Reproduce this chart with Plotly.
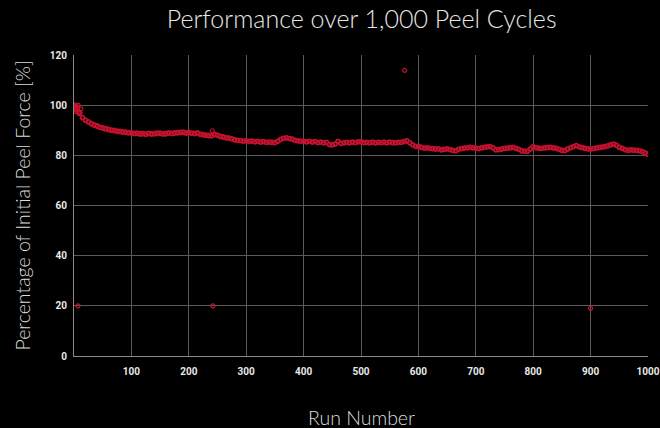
import plotly.graph_objects as go

# Main series: run number (every 5 runs) and percentage of initial peel force
runs = list(range(0, 1001, 5))
force = [
    100.0, 98.5, 97.0, 95.0, 94.0, 93.3, 92.6, 92.1, 91.7, 91.2,
    90.9, 90.6, 90.3, 90.0, 89.9, 89.6, 89.5, 89.3, 89.2, 89.0,
    88.9, 88.7, 88.8, 88.5, 88.6, 88.4, 88.7, 88.5, 88.6, 88.8,
    88.8, 88.5, 88.6, 88.9, 88.7, 88.9, 89.0, 89.1, 89.2, 88.9,
    89.1, 88.8, 88.7, 88.9, 88.4, 88.2, 88.0, 87.9, 87.8, 88.3,
    88.0, 87.5, 87.3, 87.0, 86.9, 86.6, 86.2, 86.0, 85.9, 85.7,
    85.8, 85.6, 85.7, 85.4, 85.6, 85.3, 85.5, 85.2, 85.3, 85.2,
    85.1, 85.6, 86.4, 86.8, 87.0, 86.7, 86.5, 86.0, 85.8, 85.7,
    85.6, 85.4, 85.6, 85.3, 85.5, 85.1, 85.3, 85.0, 85.2, 84.3,
    84.2, 84.5, 85.6, 84.8, 85.0, 85.2, 85.0, 85.3, 85.1, 85.4,
    85.4, 85.1, 85.2, 85.0, 85.3, 85.0, 85.2, 85.1, 85.3, 85.0,
    85.3, 85.1, 85.0, 85.2, 85.2, 85.5, 85.8, 85.0, 84.2, 83.6,
    83.6, 83.2, 82.9, 83.0, 82.8, 82.7, 82.5, 82.6, 82.2, 82.4,
    82.6, 82.3, 82.0, 81.8, 82.4, 82.7, 82.9, 83.0, 83.2, 83.0,
    82.9, 82.7, 83.0, 83.2, 83.4, 83.5, 83.0, 82.2, 82.3, 82.5,
    82.8, 82.9, 83.0, 83.2, 82.8, 82.4, 81.8, 81.7, 81.6, 82.5,
    83.4, 83.0, 82.9, 82.8, 83.0, 83.1, 83.2, 83.0, 82.8, 82.4,
    82.0, 81.9, 82.5, 83.0, 83.5, 83.9, 83.4, 83.1, 82.8, 82.6,
    82.5, 82.7, 82.9, 83.1, 83.3, 83.5, 83.8, 84.2, 84.5, 84.0,
    83.2, 82.8, 82.3, 82.0, 82.2, 82.1, 82.0, 81.8, 81.5, 81.0,
    80.5,
]

# Early scatter and outliers
extra_runs = [1, 2, 3, 4, 6, 7, 8, 9, 12, 241, 7, 242, 576, 900]
extra_force = [99.5, 97.5, 99.8, 98.0, 99.2, 100.0, 97.2, 96.5, 98.5, 89.8, 20.0, 20.0, 113.9, 19.0]

x_ticks = [100, 200, 300, 400, 500, 600, 700, 800, 900, 1000]
y_ticks = [0, 20, 40, 60, 80, 100, 120]

RED = "#c4122f"
band_marker = dict(symbol="circle-open", size=4, color=RED, line=dict(width=1.8, color=RED))
dot_marker = dict(symbol="circle-open", size=4, color=RED, line=dict(width=1.2, color=RED))

fig = go.Figure()
fig.add_trace(go.Scatter(x=runs, y=force, mode="markers", marker=band_marker,
                         showlegend=False, hoverinfo="x+y"))
fig.add_trace(go.Scatter(x=extra_runs, y=extra_force, mode="markers", marker=dot_marker,
                         showlegend=False, hoverinfo="x+y"))

tick_font = dict(family="Roboto", size=10, color="#e8e8e8", weight="bold")
title_font = dict(family="Lato Light, Lato", size=19.5, color="#dcdcdc", weight=300)

fig.update_layout(
    width=660, height=428, autosize=False,
    paper_bgcolor="black", plot_bgcolor="black",
    margin=dict(l=74, r=12, t=55, b=72),
    title=dict(text="Performance over 1,000 Peel Cycles", x=0.548, xanchor="center",
               y=0.955, yanchor="middle",
               font=dict(family="Lato Light, Lato", size=25, color="#e6e6e6", weight=300)),
    xaxis=dict(range=[0, 1000], tickvals=x_ticks, ticktext=[str(v) for v in x_ticks],
               showgrid=True, gridcolor="#5a5a5a", gridwidth=1, zeroline=False,
               showline=True, linecolor="#8a8a8a", linewidth=1, automargin=False,
               tickfont=tick_font, ticks="", ticklabelstandoff=6),
    yaxis=dict(range=[0, 120], tickvals=y_ticks,
               showgrid=True, gridcolor="#5a5a5a", gridwidth=1, zeroline=False,
               showline=True, linecolor="#8a8a8a", linewidth=1, automargin=False,
               tickfont=tick_font, ticks="", ticklabelstandoff=4),
    annotations=[
        dict(text="Run Number", xref="paper", yref="paper", x=0.5, y=0,
             xanchor="center", yanchor="middle", yshift=-61, showarrow=False,
             font=title_font),
        dict(text="Percentage of Initial Peel Force [%]", xref="paper", yref="paper",
             x=0, y=0.5, xanchor="center", yanchor="middle", xshift=-52,
             textangle=-90, showarrow=False, font=title_font),
    ],
)

fig.write_html(
    "out.html",
    config={"displayModeBar": False},
    post_script="document.body.style.margin='0';document.body.style.overflow='hidden';"
                "document.body.style.background='black';",
)
